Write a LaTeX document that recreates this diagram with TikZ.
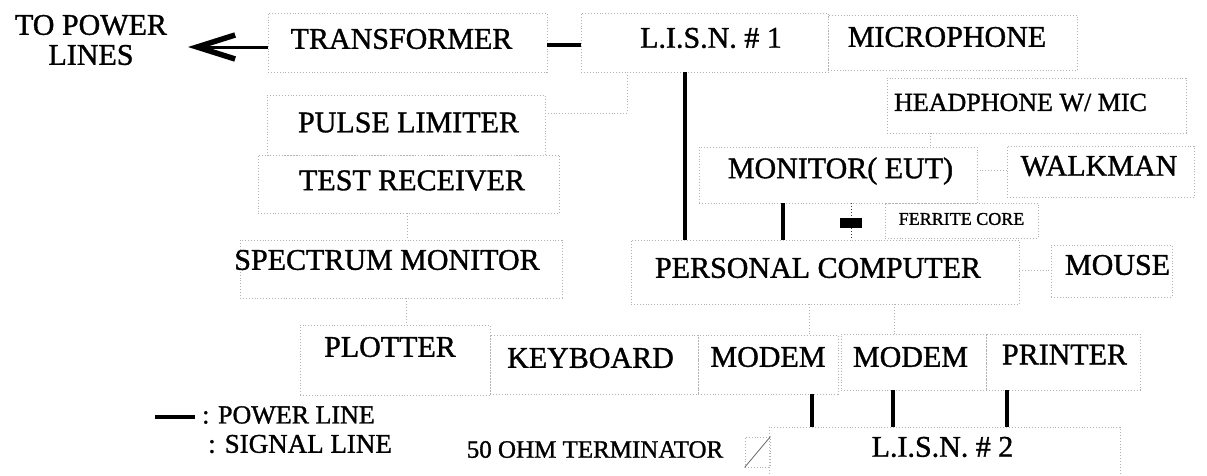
\documentclass[tikz,border=0pt]{standalone}
\usepackage{fontspec}
\setmainfont{Liberation Serif}[AutoFakeBold=1.2]
\usetikzlibrary{arrows.meta}
\begin{document}
\bfseries
\begin{tikzpicture}[x=1pt,y=-1pt,
  box/.style={draw=black!30, dotted, line width=0.9pt, inner sep=0pt},
  txt/.style={font=\fontsize{30}{30}\selectfont, inner sep=0pt},
  small/.style={font=\fontsize{26}{26}\selectfont, inner sep=0pt},
  power/.style={line width=3.5pt},
  signal/.style={draw=black!30, dotted, line width=0.9pt},
  powarrow/.style={line width=3pt, -{Straight Barb[length=38pt,width=24pt,line width=5.5pt]}}]
\useasboundingbox (0,0) rectangle (1207,475);

% ---------- top row ----------
\node[txt, align=center] (topower) at (91,40) {TO POWER\\LINES};
\node[box, minimum width=279, minimum height=59,
  label={[txt,name=transT,shift={(-6,-3.5)}]center:TRANSFORMER}] (trans) at (407.5,42.5) {};
\node[box, minimum width=247, minimum height=59,
  label={[txt,name=lisnAT,shift={(6.5,-4.5)}]center:L.I.S.N. \# 1}] (lisnA) at (704.5,42.5) {};
\node[box, minimum width=249, minimum height=55,
  label={[txt,name=micT,shift={(-5.5,-5.5)}]center:MICROPHONE}] (mic) at (952.5,42.5) {};
\node[box, minimum width=299, minimum height=55,
  label={[small,name=headT,shift={(-16,-3)}]center:HEADPHONE W/ MIC}] (head) at (1036.5,105.5) {};

% ---------- left column ----------
\node[box, minimum width=278, minimum height=60,
  label={[txt,name=pulseT,shift={(2.5,-2.5)}]center:PULSE LIMITER}] (pulse) at (406,125) {};
\node[box, minimum width=301, minimum height=58,
  label={[txt,name=testT,shift={(3.5,-3.5)}]center:TEST RECEIVER}] (test) at (408.5,184) {};
\node[box, minimum width=322, minimum height=58,
  label={[txt,name=specT,shift={(-14,-9)}]center:SPECTRUM MONITOR}] (spec) at (401,269) {};
\node[box, minimum width=190, minimum height=70,
  label={[txt,name=plotT,shift={(-5,-13)}]center:PLOTTER}] (plotter) at (395,360) {};

% ---------- middle ----------
\node[box, minimum width=278, minimum height=56,
  label={[txt,name=monT,shift={(2.5,-4)}]center:MONITOR( EUT)}] (monitor) at (838,175) {};
\node[box, minimum width=187, minimum height=51,
  label={[txt,name=walkT,shift={(-1.5,-5.5)}]center:WALKMAN}] (walkman) at (1100.5,171.5) {};
\node[box, minimum width=153, minimum height=35,
  label={[font=\fontsize{18}{18}\selectfont,inner sep=0pt,name=ferT,shift={(0,-1.5)}]center:FERRITE CORE}] (ferbox) at (961.5,220.5) {};
\node[fill=black, minimum width=22, minimum height=10, inner sep=0pt] (ferrite) at (851,223) {};
\node[box, minimum width=388, minimum height=64,
  label={[txt,name=pcT,shift={(-7,-4)}]center:PERSONAL COMPUTER}] (pc) at (825,272) {};
\node[box, minimum width=121, minimum height=52,
  label={[txt,name=mouseT,shift={(6,-6)}]center:MOUSE}] (mouse) at (1111.5,271) {};

% ---------- bottom row ----------
\node[box, minimum width=208, minimum height=59,
  label={[txt,name=keyT,shift={(-3.5,-6.5)}]center:KEYBOARD}] (keyboard) at (594,364.5) {};
\node[box, minimum width=140, minimum height=59,
  label={[txt,name=modAT,shift={(0,-7.5)}]center:MODEM}] (modemA) at (768,364.5) {};
\node[box, minimum width=145, minimum height=56,
  label={[txt,name=modBT,shift={(-3,-5)}]center:MODEM}] (modemB) at (913.5,362) {};
\node[box, minimum width=154, minimum height=56,
  label={[txt,name=printT,shift={(1.5,-7.5)}]center:PRINTER}] (printer) at (1063,362) {};
\node[box, minimum width=351, minimum height=58,
  label={[txt,name=lisnBT,shift={(-2,-9)}]center:L.I.S.N. \# 2}] (lisnB) at (944.5,456) {};
\node[box, minimum width=25, minimum height=30] (term) at (757.5,452) {};
\node[font=\fontsize{25}{25}\selectfont, inner sep=0pt] (termlbl) at (595,449.5) {50 OHM TERMINATOR};

% ---------- legend ----------
\coordinate (legA) at (155,417);
\coordinate (legB) at (195,417);
\node[small, anchor=west] (legP) at (202,415) {: POWER LINE};
\node[font=\fontsize{27}{27}\selectfont, inner sep=0pt, anchor=west] (legS) at (208,444) {: SIGNAL LINE};

% ---------- power lines ----------
\coordinate (pwr) at (188,47);
\draw[powarrow] (trans.west |- pwr) -- (pwr);
\draw[power] (trans.east |- 0,45) -- (lisnA.west |- 0,45);
\draw[power] (lisnA.south -| 685,0) -- (pc.north -| 685,0);
\draw[power] (monitor.south -| 783,0) -- (pc.north -| 783,0);
\draw[power] (modemA.south -| 812,0) -- (lisnB.north -| 812,0);
\draw[power] (modemB.south -| 893,0) -- (lisnB.north -| 893,0);
\draw[power] (printer.south -| 1007,0) -- (lisnB.north -| 1007,0);
\draw[line width=4pt] (legA) -- (legB);

% ---------- signal lines ----------
\draw[signal] (lisnA.south -| 627,0) |- (pulse.east |- 0,113);
\draw[signal] (test.south -| 407,0) -- (spec.north -| 407,0);
\draw[signal] (spec.south -| 406,0) -- (plotter.north -| 406,0);
\draw[signal] (head.south -| 930,0) -- (monitor.north -| 930,0);
\draw[signal] (walkman.west |- 0,170) -- (monitor.east |- 0,170);
\draw[signal, draw=black!75] (monitor.south -| ferrite) -- (ferrite) -- (pc.north -| ferrite);
\draw[signal] (pc.south -| 809,0) -- (modemA.north -| 809,0);
\draw[signal] (pc.south -| 894,0) -- (modemB.north -| 894,0);
\draw[signal] (pc.east |- 0,270) -- (mouse.west |- 0,270);
\draw[black!60, line width=0.8pt] (term.south west) -- (term.north east);
\end{tikzpicture}
\end{document}
